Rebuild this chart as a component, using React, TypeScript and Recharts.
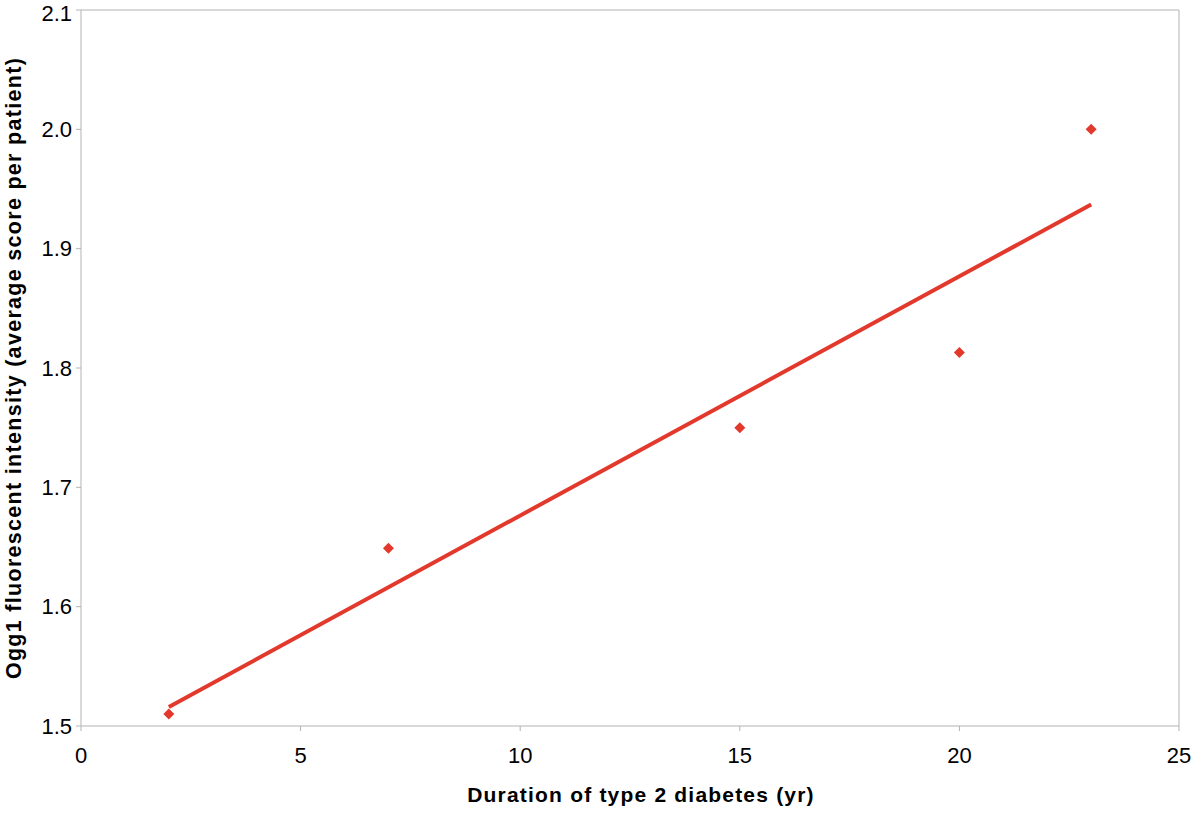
import { ScatterChart, Scatter, XAxis, YAxis, ReferenceLine } from 'recharts';

// measured points
const durationYears = [2, 7, 15, 20, 23];
const oggIntensity = [1.51, 1.649, 1.75, 1.813, 2.0];

// linear trend line end points
const trendYears = [2, 23];
const trendIntensity = [1.516, 1.937];

const xTicks = [0, 5, 10, 15, 20, 25];
const yTicks = [1.5, 1.6, 1.7, 1.8, 1.9, 2.0, 2.1];

const RED = '#e3392c';
const AXIS = '#b3b3b3';
const FONT = '"Liberation Sans", Arial, Helvetica, sans-serif';

const points = durationYears.map((x, i) => ({ x, y: oggIntensity[i] }));
const trend = trendYears.map((x, i) => ({ x, y: trendIntensity[i] }));

const Diamond = (props: any) => {
    const { cx, cy } = props;
    if (cx == null || cy == null) return null;
    const r = 5.5;
    return (
        <polygon
            points={`${cx},${cy - r} ${cx + r},${cy} ${cx},${cy + r} ${cx - r},${cy}`}
            fill={RED}
        />
    );
};

export default function App() {
    return (
        <div style={{ position: 'absolute', left: 0, top: 0, background: '#fff' }}>
            <ScatterChart
                width={1198}
                height={814}
                margin={{ top: 10, right: 19, left: 0, bottom: 0 }}
                style={{ fontFamily: FONT }}
            >
                <XAxis
                    type="number"
                    dataKey="x"
                    domain={[0, 25]}
                    ticks={xTicks}
                    height={88}
                    stroke={AXIS}
                    tickSize={5}
                    tick={{ fill: '#000', fontSize: 22, fontFamily: FONT, dy: 14 }}
                    label={{
                        value: 'Duration of type 2 diabetes (yr)',
                        position: 'insideBottom',
                        offset: 12,
                        dx: 11,
                        fill: '#000',
                        fontSize: 21,
                        fontWeight: 'bold',
                        fontFamily: FONT,
                        letterSpacing: 1.2,
                    }}
                />
                <YAxis
                    type="number"
                    dataKey="y"
                    domain={[1.5, 2.1]}
                    ticks={yTicks}
                    width={81}
                    stroke={AXIS}
                    tickSize={5}
                    tickFormatter={(v: number) => v.toFixed(1)}
                    tick={{ fill: '#000', fontSize: 22, fontFamily: FONT, dx: -2 }}
                    label={{
                        value: 'Ogg1 fluorescent intensity (average score per patient)',
                        angle: -90,
                        position: 'insideLeft',
                        offset: 13,
                        style: { textAnchor: 'middle' },
                        fill: '#000',
                        fontSize: 21.5,
                        fontWeight: 'bold',
                        fontFamily: FONT,
                        letterSpacing: 1.3,
                    }}
                />
                <ReferenceLine y={2.1} stroke={AXIS} />
                <ReferenceLine x={25} stroke={AXIS} />
                <Scatter
                    data={trend}
                    line={{ stroke: RED, strokeWidth: 4 }}
                    shape={() => null}
                    isAnimationActive={false}
                />
                <Scatter data={points} shape={<Diamond />} isAnimationActive={false} />
            </ScatterChart>
        </div>
    );
}
